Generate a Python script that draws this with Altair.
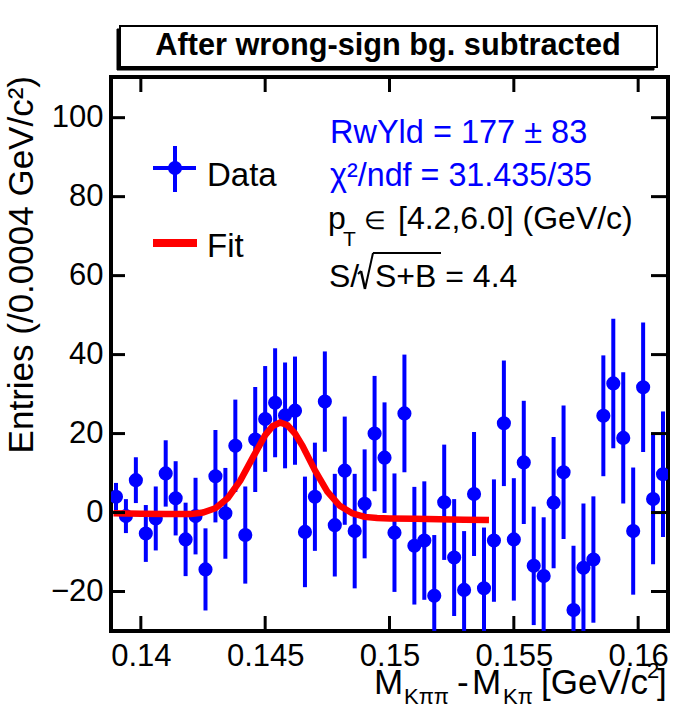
import altair as alt
import pandas as pd

# ---------------- data ----------------
x_centers = [0.1390, 0.1394, 0.1398, 0.1402, 0.1406, 0.1410, 0.1414, 0.1418,
             0.1422, 0.1426, 0.1430, 0.1434, 0.1438, 0.1442, 0.1446, 0.1450,
             0.1454, 0.1458, 0.1462, 0.1466, 0.1470, 0.1474, 0.1478, 0.1482,
             0.1486, 0.1490, 0.1494, 0.1498, 0.1502, 0.1506, 0.1510, 0.1514,
             0.1518, 0.1522, 0.1526, 0.1530, 0.1534, 0.1538, 0.1542, 0.1546,
             0.1550, 0.1554, 0.1558, 0.1562, 0.1566, 0.1570, 0.1574, 0.1578,
             0.1582, 0.1586, 0.1590, 0.1594, 0.1598, 0.1602, 0.1606, 0.1610]
y_vals = [4.0, -0.9, 8.2, -5.3, -1.5, 9.9, 3.6, -6.8,
          -0.9, -14.4, 9.2, -0.2, 16.9, -5.7, 18.5, 23.7,
          27.8, 24.6, 25.8, -4.9, 4.0, 28.1, -3.2, 10.6,
          -4.7, 2.2, 20.0, 13.9, -5.1, 25.1, -8.4, -7.1,
          -21.1, 2.6, -11.4, -19.6, 4.7, -19.2, -7.1, 22.6,
          -6.8, 12.7, -13.5, -16.1, 2.5, 10.2, -24.7, -14.0,
          -11.9, 24.5, 32.7, 18.9, -4.7, 31.7, 3.4, 9.7]
y_errs = [3.5, 4.3, 5.8, 7.2, 8.1, 8.4, 9.4, 9.3,
          9.7, 10.4, 11.7, 11.5, 11.7, 12.3, 13.3, 13.4,
          13.8, 13.4, 13.7, 14.0, 13.7, 12.7, 13.0, 13.7,
          14.5, 13.8, 14.6, 14.0, 15.0, 14.9, 14.9, 15.0,
          15.4, 14.6, 14.8, 14.9, 15.7, 15.4, 15.5, 15.9,
          15.5, 15.6, 15.0, 14.9, 16.6, 16.9, 16.3, 16.3,
          16.0, 15.3, 16.4, 16.6, 16.1, 16.4, 16.5, 15.9]

fit_x = [0.1389, 0.1400, 0.1410, 0.1420, 0.1425, 0.1430, 0.1435, 0.1440,
         0.1445, 0.1450, 0.1453, 0.1456, 0.1459, 0.1462, 0.1465, 0.1470,
         0.1475, 0.1480, 0.1485, 0.1490, 0.1495, 0.1500, 0.1510, 0.1520,
         0.1530, 0.1540]
fit_y = [-0.2, -0.3, -0.4, -0.4, 0.0, 1.1, 3.7, 8.1,
         13.9, 19.6, 21.9, 22.8, 22.1, 20.0, 16.9, 10.7,
         5.3, 1.7, -0.2, -1.1, -1.4, -1.5, -1.6, -1.7,
         -1.8, -1.9]

x_ticks = [0.14, 0.145, 0.15, 0.155, 0.16]
y_ticks = [-20, 0, 20, 40, 60, 80, 100]

# ---------------- layout ----------------
W, H = 557, 554          # plot area
OX, OY = 111, 77         # plot origin on the page
FONT = "Liberation Sans"
BLUE = "#0000ff"
RED = "#ff0000"

df = pd.DataFrame({"x": x_centers, "y": y_vals, "err": y_errs})
df["lo"] = df["y"] - df["err"]
df["hi"] = df["y"] + df["err"]
fit_df = pd.DataFrame({"x": fit_x, "y": fit_y})
xt_df = pd.DataFrame({"v": x_ticks})
yt_df = pd.DataFrame({"v": y_ticks})
one = pd.DataFrame({"a": [0]})

xs = alt.Scale(domain=[0.1388, 0.1612], nice=False, zero=False)
ys = alt.Scale(domain=[-30, 110.3], nice=False, zero=False)

x_axis = alt.Axis(values=x_ticks, format="~g", title=None, ticks=False, tickSize=0,
                  domain=False, grid=False, labelFont=FONT, labelFontSize=31,
                  labelColor="black", labelPadding=10, labelOverlap=False,
                  labelFlush=False)
y_axis = alt.Axis(values=y_ticks, title=None, ticks=False, tickSize=0,
                  domain=False, grid=False, labelFont=FONT, labelFontSize=31,
                  labelColor="black", labelPadding=8, labelOverlap=False,
                  labelFlush=False)


def X(field):
    return alt.X(field, type="quantitative", scale=xs, axis=x_axis)


def Y(field):
    return alt.Y(field, type="quantitative", scale=ys, axis=y_axis)


def txt(s, px, py, size, color="black", bold=False, align="left", angle=0):
    return alt.Chart(one).mark_text(
        text=s, fontSize=size, color=color, font=FONT,
        fontWeight="bold" if bold else "normal", align=align,
        baseline="alphabetic", angle=angle,
    ).encode(x=alt.value(px - OX), y=alt.value(py - OY))


def box(x1, y1, x2, y2, fill, stroke, sw):
    return alt.Chart(one).mark_rect(fill=fill, stroke=stroke, strokeWidth=sw).encode(
        x=alt.value(x1 - OX), x2=alt.value(x2 - OX),
        y=alt.value(y1 - OY), y2=alt.value(y2 - OY))


def seg(x1, y1, x2, y2, color, sw):
    return alt.Chart(one).mark_rule(color=color, strokeWidth=sw).encode(
        x=alt.value(x1 - OX), x2=alt.value(x2 - OX),
        y=alt.value(y1 - OY), y2=alt.value(y2 - OY))


layers = []

# data error bars and points
layers.append(alt.Chart(df).mark_rule(color=BLUE, strokeWidth=4, clip=True).encode(
    x=X("x"), y=Y("lo"), y2="hi"))
layers.append(alt.Chart(df).mark_circle(color=BLUE, size=200, opacity=1, clip=True).encode(
    x=X("x"), y=Y("y")))
# fit curve
layers.append(alt.Chart(fit_df).mark_line(color=RED, strokeWidth=6.5, clip=True).encode(
    x=X("x"), y=Y("y")))

# inward ticks (all four sides)
layers.append(alt.Chart(xt_df).mark_rule(color="black", strokeWidth=3).encode(
    x=X("v"), y=alt.value(H), y2=alt.value(H - 15)))
layers.append(alt.Chart(xt_df).mark_rule(color="black", strokeWidth=3).encode(
    x=X("v"), y=alt.value(0), y2=alt.value(15)))
layers.append(alt.Chart(yt_df).mark_rule(color="black", strokeWidth=3).encode(
    y=Y("v"), x=alt.value(0), x2=alt.value(14)))
layers.append(alt.Chart(yt_df).mark_rule(color="black", strokeWidth=3).encode(
    y=Y("v"), x=alt.value(W), x2=alt.value(W - 17)))

# title box with shadow
layers.append(box(117, 29, 654, 70, "black", "black", 1))
layers.append(box(120, 26, 657, 67, "white", "black", 2))
layers.append(txt("After wrong-sign bg. subtracted", 388, 55, 30.7, bold=True, align="center"))

# legend
layers.append(seg(153, 168, 196, 168, BLUE, 4))
layers.append(seg(175, 146, 175, 192, BLUE, 4))
layers.append(alt.Chart(one).mark_circle(color=BLUE, size=200, opacity=1).encode(
    x=alt.value(175 - OX), y=alt.value(168 - OY)))
layers.append(txt("Data", 207, 186, 33))
layers.append(seg(153, 243, 197, 243, RED, 8))
layers.append(txt("Fit", 207, 257, 33))

# fit info
layers.append(txt("RwYld = 177 \u00b1 83", 330, 143, 32.5, color=BLUE))
layers.append(txt("\u03c7\u00b2/ndf = 31.435/35", 330, 186, 32.3, color=BLUE))
layers.append(txt("p", 328, 229, 32))
layers.append(txt("T", 343, 246, 21))
layers.append(txt("\u2208", 364, 229, 25))
layers.append(txt("[4.2,6.0] (GeV/c)", 398, 229, 32))
layers.append(txt("S/", 329, 287, 32))
layers.append(seg(358, 274, 361, 271, "black", 2))
layers.append(seg(361, 271, 365, 289, "black", 2.5))
layers.append(seg(365, 289, 373, 253, "black", 2))
layers.append(seg(373, 253, 441, 253, "black", 2))
layers.append(txt("S+B = 4.4", 375, 287, 32))

# axis titles
layers.append(txt("Entries (/0.0004 GeV/c\u00b2)", 33, 76, 35, align="right", angle=270))
layers.append(txt("M", 374, 694, 35))
layers.append(txt("K\u03c0\u03c0", 404, 704, 22))
layers.append(txt("-", 457, 694, 35))
layers.append(txt("M", 472, 694, 35))
layers.append(txt("K\u03c0", 503, 704, 22))
layers.append(txt("[GeV/c", 541, 694, 35))
layers.append(txt("2", 647, 678, 22))
layers.append(txt("]", 657, 694, 35))

chart = alt.layer(*layers).properties(
    width=W, height=H,
    autosize=alt.AutoSizeParams(type="none"),
    padding={"left": OX, "top": OY, "right": 696 - OX - W, "bottom": 704 - OY - H},
    background="white",
).configure_view(stroke="black", strokeWidth=4)

chart.save("out.html", embed_options={"renderer": "svg", "actions": False})
